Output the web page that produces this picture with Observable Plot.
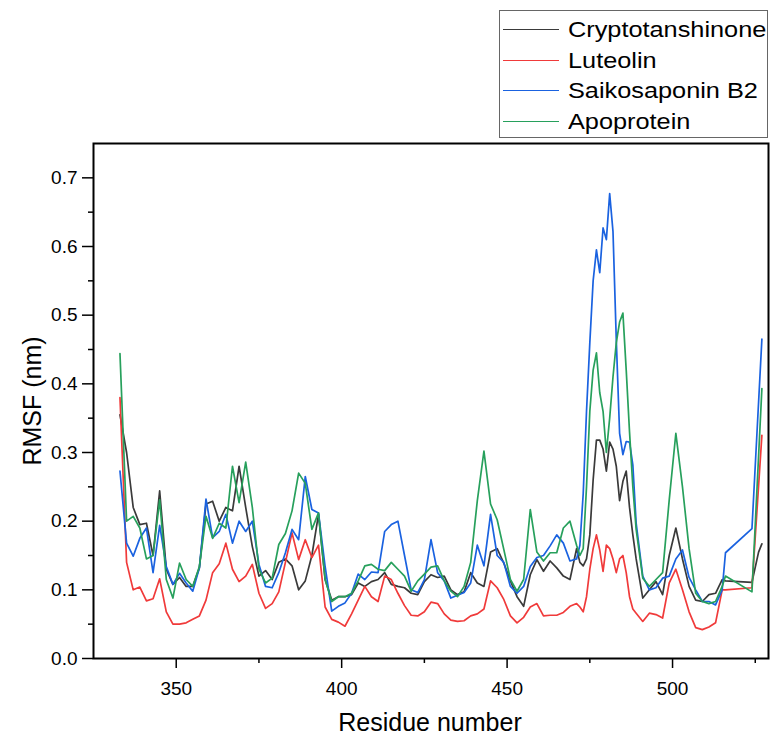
<!DOCTYPE html>
<html>
<head>
<meta charset="utf-8">
<script src="https://cdn.jsdelivr.net/npm/d3@7"></script>
<script src="https://cdn.jsdelivr.net/npm/@observablehq/plot@0.6"></script>
<style>
  html, body { margin: 0; padding: 0; background: #fff; }
  #wrap { position: relative; width: 770px; height: 738px; font-family: "Liberation Sans", Arial, sans-serif; color: #000; }
  #chart { position: absolute; left: 0; top: 0; }
  #legend { position: absolute; left: 499px; top: 10px; width: 269px; height: 128px; border: 1px solid #666; box-sizing: border-box; background: #fff; }
  .row { position: absolute; left: 0; width: 100%; height: 30px; }
  .swatch { position: absolute; left: 3px; top: 14px; width: 56px; height: 0; border-top: 1.5px solid #000; }
  .lab { position: absolute; left: 68px; top: 1px; font-size: 22px; line-height: 28px; white-space: nowrap; transform: scaleX(1.15); transform-origin: left center; }
  #ytitle { position: absolute; left: 32px; top: 401px; transform: translate(-50%, -50%) rotate(-90deg); font-size: 25px; white-space: nowrap; }
  #xtitle { position: absolute; left: 430px; top: 722px; transform: translate(-50%, -50%); font-size: 25px; white-space: nowrap; }
</style>
</head>
<body>
<div id="wrap">
  <div id="chart"></div>
  <div id="ytitle">RMSF (nm)</div>
  <div id="xtitle">Residue number</div>
  <div id="legend"></div>
</div>
<script>
// Residue numbers (x)
const residues = [
  333,335,337,339,341,343,345,347,349,351,
  353,355,357,359,361,363,365,367,369,371,
  373,375,377,379,381,383,385,387,389,391,
  393,395,397,399,401,403,405,407,409,411,
  413,415,417,419,421,423,425,427,429,431,
  433,435,437,439,441,443,445,447,449,451,
  453,455,457,459,461,463,465,467,469,
  471,472,473,474,475,476,477,478,479,480,481,482,483,484,485,486,487,488,489,
  491,493,495,497,499,501,503,505,507,509,511,513,515,
  516,524,526,527
];

// RMSF (nm) for each series
const cryptotanshinone = [
  0.355,0.30,0.22,0.195,0.197,0.15,0.244,0.13,0.108,0.118,
  0.105,0.105,0.132,0.225,0.229,0.20,0.22,0.215,0.28,0.22,
  0.163,0.12,0.128,0.115,0.14,0.145,0.135,0.10,0.113,0.15,
  0.21,0.115,0.085,0.09,0.09,0.093,0.11,0.105,0.112,0.115,
  0.125,0.108,0.105,0.103,0.095,0.093,0.112,0.122,0.118,0.12,
  0.1,0.093,0.097,0.125,0.11,0.105,0.155,0.16,0.139,0.113,
  0.09,0.076,0.122,0.144,0.127,0.142,0.132,0.12,0.115,
  0.16,0.14,0.135,0.145,0.18,0.26,0.318,0.318,0.305,0.273,0.315,0.305,0.28,0.23,0.258,0.273,0.22,0.18,0.145,
  0.088,0.1,0.112,0.093,0.15,0.19,0.145,0.105,0.085,0.083,0.093,0.095,0.115,
  0.113,0.111,0.155,0.167
];
const luteolin = [
  0.38,0.14,0.10,0.104,0.084,0.087,0.116,0.068,0.05,0.05,
  0.052,0.057,0.062,0.085,0.125,0.138,0.168,0.13,0.112,0.12,
  0.137,0.095,0.073,0.08,0.097,0.14,0.183,0.144,0.173,0.147,
  0.165,0.075,0.057,0.053,0.047,0.065,0.085,0.105,0.09,0.083,
  0.12,0.115,0.095,0.077,0.063,0.062,0.068,0.082,0.08,0.065,
  0.056,0.054,0.055,0.062,0.065,0.072,0.113,0.103,0.086,0.062,
  0.052,0.06,0.075,0.08,0.062,0.063,0.063,0.067,0.076,
  0.08,0.075,0.068,0.09,0.13,0.16,0.18,0.158,0.127,0.165,0.16,0.145,0.125,0.145,0.15,0.125,0.09,0.072,0.066,
  0.054,0.066,0.064,0.059,0.11,0.13,0.1,0.068,0.045,0.042,0.046,0.052,0.1,
  0.1,0.103,null,0.325
];
const saikosaponinB2 = [
  0.273,0.168,0.149,0.175,0.19,0.125,0.194,0.134,0.108,0.124,
  0.11,0.098,0.132,0.232,0.176,0.185,0.21,0.168,0.2,0.185,
  0.2,0.137,0.105,0.103,0.125,0.154,0.188,0.173,0.265,0.217,
  0.212,0.134,0.069,0.076,0.081,0.095,0.123,0.115,0.126,0.125,
  0.185,0.195,0.2,0.15,0.1,0.096,0.115,0.173,0.125,0.113,
  0.088,0.092,0.096,0.11,0.165,0.135,0.21,0.15,0.14,0.105,
  0.095,0.105,0.134,0.147,0.15,0.164,0.18,0.168,0.142,
  0.145,0.165,0.24,0.36,0.46,0.55,0.595,0.562,0.627,0.61,0.677,0.622,0.464,0.328,0.297,0.316,0.315,0.282,0.197,
  0.12,0.1,0.103,0.117,0.12,0.145,0.158,0.118,0.1,0.083,0.083,0.078,0.1,
  0.154,0.189,null,0.465
];
const apoprotein = [
  0.444,0.2,0.207,0.19,0.145,0.15,0.231,0.115,0.088,0.139,
  0.115,0.105,0.134,0.207,0.175,0.197,0.19,0.28,0.227,0.286,
  0.22,0.13,0.11,0.117,0.166,0.182,0.215,0.27,0.255,0.188,
  0.212,0.115,0.083,0.09,0.09,0.095,0.113,0.135,0.137,0.13,
  0.128,0.14,0.13,0.12,0.098,0.113,0.123,0.133,0.135,0.113,
  0.098,0.09,0.105,0.14,0.23,0.302,0.225,0.202,0.159,0.115,
  0.098,0.115,0.217,0.155,0.142,0.154,0.154,0.19,0.2,
  0.165,0.15,0.16,0.25,0.36,0.42,0.445,0.387,0.36,0.30,0.35,0.41,0.46,0.49,0.503,0.42,0.33,0.25,0.188,
  0.117,0.105,0.115,0.125,0.231,0.328,0.25,0.16,0.095,0.083,0.08,0.083,0.105,
  0.12,0.097,null,0.393
];

const seriesNames = ["Cryptotanshinone", "Luteolin", "Saikosaponin B2", "Apoprotein"];
const seriesColors = ["#3a3a3a", "#f03a3a", "#1a62e0", "#27a05c"];
const xMajorTicks = [350, 400, 450, 500];
const xMinorTicks = [375, 425, 475, 525];
const yMajorTicks = [0, 0.1, 0.2, 0.3, 0.4, 0.5, 0.6, 0.7];
const yMinorTicks = [0.05, 0.15, 0.25, 0.35, 0.45, 0.55, 0.65];

const seriesValues = [cryptotanshinone, luteolin, saikosaponinB2, apoprotein];
const data = [];
seriesNames.forEach((name, i) => {
  residues.forEach((r, j) => {
    const v = seriesValues[i][j];
    if (v != null) data.push({series: name, residue: r, rmsf: v});
  });
});

const chart = Plot.plot({
  width: 770,
  height: 738,
  marginLeft: 93,
  marginRight: 2,
  marginTop: 143,
  marginBottom: 80,
  style: {fontFamily: "'Liberation Sans', Arial, sans-serif", fontSize: "19px", color: "#000", background: "#fff", overflow: "visible"},
  x: {domain: [325, 529]},
  y: {domain: [0, 0.75]},
  color: {domain: seriesNames, range: seriesColors},
  marks: [
    Plot.axisX({ticks: xMajorTicks, tickSize: 10, tickPadding: 13, tickFormat: d => String(d), strokeWidth: 1.5, label: null}),
    Plot.axisX({ticks: xMinorTicks, tickSize: 5, tickFormat: () => "", strokeWidth: 1.5, label: null}),
    Plot.axisY({ticks: yMajorTicks, tickSize: 11, tickPadding: 5, tickFormat: d3.format(".1f"), strokeWidth: 1.5, label: null}),
    Plot.axisY({ticks: yMinorTicks, tickSize: 5, tickFormat: () => "", strokeWidth: 1.5, label: null}),
    Plot.line(data, {x: "residue", y: "rmsf", z: "series", stroke: "series", strokeWidth: 1.7, strokeLinejoin: "round"}),
    Plot.frame({stroke: "#000", strokeWidth: 2})
  ]
});
document.getElementById("chart").appendChild(chart);

// Legend
const legend = document.getElementById("legend");
const rowTops = [4, 35, 65, 96];
seriesNames.forEach((name, i) => {
  const row = document.createElement("div");
  row.className = "row";
  row.style.top = rowTops[i] + "px";
  const sw = document.createElement("div");
  sw.className = "swatch";
  sw.style.borderTopColor = seriesColors[i];
  const lab = document.createElement("div");
  lab.className = "lab";
  lab.textContent = name;
  row.appendChild(sw);
  row.appendChild(lab);
  legend.appendChild(row);
});
</script>
</body>
</html>
